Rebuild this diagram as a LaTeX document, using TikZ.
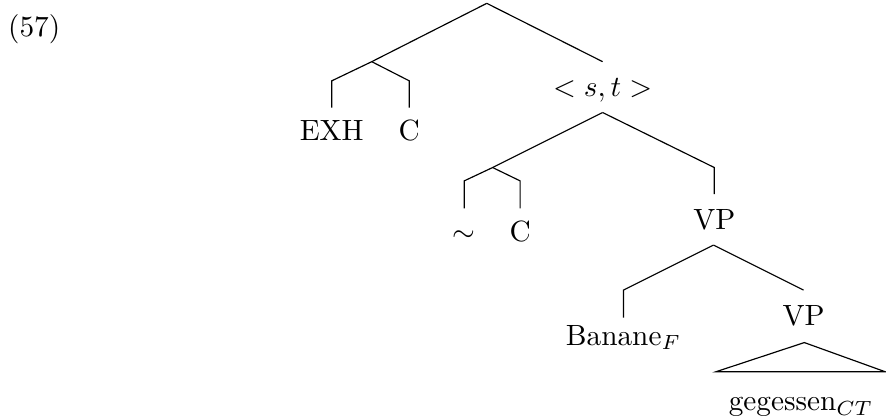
\documentclass[tikz,border=0pt]{standalone}
\begin{document}
\begin{tikzpicture}[word/.style={anchor=base, inner sep=0pt}]
\useasboundingbox (0,0) rectangle (10.63,4.99);

\node[word] (num) at (0.41,4.55) {(57)};

% root and the EXH C pair
\coordinate (root) at (5.84,4.95);
\coordinate (exhc) at (4.46,4.25);
\coordinate (exhtop) at (3.98,4.02);
\coordinate (exhend) at (3.98,3.70);
\coordinate (ctop) at (4.91,4.02);
\coordinate (cend) at (4.91,3.70);
\coordinate (sttop) at (7.23,4.25);
\node[word] (exh) at (3.98,3.30) {EXH};
\node[word] (c) at (4.91,3.30) {C};
\node[word] (st) at (7.23,3.83) {$<s,t>$};

\draw (root) -- (exhc) -- (exhtop) -- (exhend);
\draw (exhc) -- (ctop) -- (cend);
\draw (root) -- (sttop);

% < s,t > with the ~ C pair and VP
\coordinate (stbot) at (7.23,3.64);
\coordinate (simc) at (5.91,2.98);
\coordinate (simtop) at (5.57,2.82);
\coordinate (simend) at (5.57,2.49);
\coordinate (c2top) at (6.24,2.82);
\coordinate (c2end) at (6.24,2.49);
\coordinate (vptop) at (8.57,2.98);
\coordinate (vpend) at (8.57,2.66);
\node[word] (sim) at (5.57,2.09) {$\sim$};
\node[word] (c2) at (6.24,2.09) {C};
\node[word] (vp) at (8.57,2.24) {VP};

\draw (stbot) -- (simc) -- (simtop) -- (simend);
\draw (simc) -- (c2top) -- (c2end);
\draw (stbot) -- (vptop) -- (vpend);

% VP over Banane and the lower VP
\coordinate (vpbot) at (8.56,2.05);
\coordinate (bantop) at (7.48,1.51);
\coordinate (banend) at (7.48,1.18);
\coordinate (vp2top) at (9.64,1.51);
\node[word] (ban) at (7.48,0.85) {Banane$_F$};
\node[word] (vp2) at (9.64,1.09) {VP};

\draw (vpbot) -- (bantop) -- (banend);
\draw (vpbot) -- (vp2top);

% roof over gegessen
\coordinate (tri) at (9.65,0.88);
\coordinate (trileft) at (8.59,0.53);
\coordinate (triright) at (10.62,0.53);
\node[word] (geg) at (9.61,0.06) {gegessen$_{CT}$};

\draw (tri) -- (trileft) -- (triright) -- cycle;

\end{tikzpicture}
\end{document}
